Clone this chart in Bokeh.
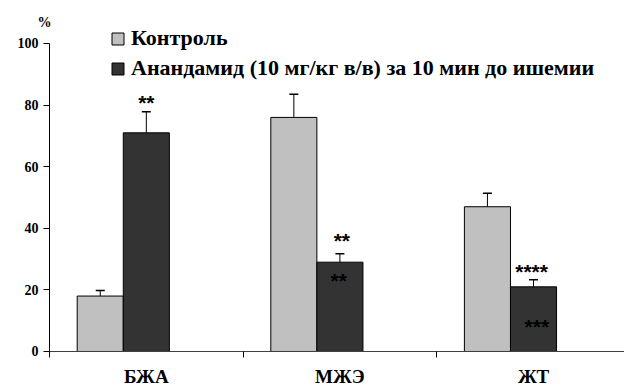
from bokeh.plotting import figure
from bokeh.models import (Range1d, FixedTicker, Legend, LegendItem, Whisker,
                          TeeHead, ColumnDataSource, Label)
from bokeh.core.properties import value
from bokeh.embed import file_html
from bokeh.resources import INLINE

# ---- data ----
categories = ["БЖА", "МЖЭ", "ЖТ"]
control = [18, 76, 47]
control_err = [1.8, 7.5, 4.4]
drug = [71, 29, 21]
drug_err = [6.8, 2.7, 2.3]
series_names = ["Контроль", "Анандамид (10 мг/кг в/в) за 10 мин до ишемии"]
y_ticks = [0, 20, 40, 60, 80, 100]
star_text = ["**", "**", "**", "****", "***"]
star_cat = [0, 1, 1, 2, 2]
star_y = [81.0, 36.0, 22.9, 25.9, 8.0]
star_dx = [0.0, 0.01, -0.006, -0.01, 0.017]

# ---- layout ----
centers = [i + 0.5 for i in range(len(categories))]
bw = 0.238
x_ctrl = [c - bw for c in centers]
x_drug = [c for c in centers]

p = figure(width=624, height=387, output_backend="svg", toolbar_location=None,
           x_range=Range1d(-0.2532, 2.97), y_range=Range1d(-11.69, 113.96),
           min_border_left=0, min_border_right=0, min_border_top=0,
           min_border_bottom=0)
p.outline_line_color = None
p.xgrid.visible = False
p.ygrid.visible = False
p.background_fill_color = "white"
p.border_fill_color = "white"

src_c = ColumnDataSource(dict(x=x_ctrl, top=control, up=[v + e for v, e in zip(control, control_err)]))
src_d = ColumnDataSource(dict(x=x_drug, top=drug, up=[v + e for v, e in zip(drug, drug_err)]))

p.add_layout(Whisker(source=src_c, base="x", lower="top", upper="up", dimension="height",
                     line_color="black", line_width=1, lower_head=None,
                     upper_head=TeeHead(size=9, line_color="black", line_width=1.5)))
p.add_layout(Whisker(source=src_d, base="x", lower="top", upper="up", dimension="height",
                     line_color="black", line_width=1, lower_head=None,
                     upper_head=TeeHead(size=9, line_color="black", line_width=1.5)))

r1 = p.vbar(x="x", top="top", width=bw, bottom=0, source=src_c,
            fill_color="#C0C0C0", line_color="black", line_width=1)
r2 = p.vbar(x="x", top="top", width=bw, bottom=0, source=src_d,
            fill_color="#333333", line_color="black", line_width=1)

p.text(x=[centers[c] + dx for c, dx in zip(star_cat, star_dx)], y=star_y, text=star_text,
       text_align="center", text_baseline="middle", text_color="black",
       text_font=value("Liberation Sans"), text_font_style="bold", text_font_size="21px")

# axes
xa = p.xaxis[0]
xa.fixed_location = 0
xa.bounds = (0, 2.97)
xa.ticker = FixedTicker(ticks=centers, minor_ticks=[0, 1, 2, 3])
xa.major_label_overrides = {c: n for c, n in zip(centers, categories)}
xa.major_tick_out = 0
xa.major_tick_in = 0
xa.minor_tick_out = 6
xa.minor_tick_in = 0
xa.minor_tick_line_color = "black"
xa.axis_line_color = "#404040"
xa.major_label_standoff = 9
xa.major_label_text_font = "Liberation Serif"
xa.major_label_text_font_style = "bold"
xa.major_label_text_font_size = "19px"
xa.major_label_text_color = "black"

ya = p.yaxis[0]
ya.fixed_location = 0
ya.bounds = (0, 100)
ya.ticker = FixedTicker(ticks=y_ticks, minor_ticks=[])
ya.major_tick_out = 6
ya.major_tick_in = 0
ya.major_tick_line_color = "black"
ya.axis_line_color = "black"
ya.major_label_standoff = 5
ya.major_label_text_font = "Liberation Serif"
ya.major_label_text_font_style = "bold"
ya.major_label_text_font_size = "14px"
ya.major_label_text_color = "black"

p.add_layout(Label(x=-0.026, y=106.8, text="%", text_font="Liberation Serif",
                   text_font_style="bold", text_font_size="14px", text_align="center",
                   text_baseline="middle", text_color="black"))

legend = Legend(items=[LegendItem(label=series_names[0], renderers=[r1]),
                       LegendItem(label=series_names[1], renderers=[r2])],
                location=(110, 306), orientation="vertical",
                label_text_font="Liberation Serif", label_text_font_style="bold",
                label_text_font_size="22px", label_text_color="black",
                glyph_width=15, glyph_height=15, label_standoff=6, spacing=4,
                padding=0, margin=0, border_line_color=None, background_fill_alpha=0,
                label_height=22)
p.add_layout(legend, "center")

open("out.html", "w").write(file_html(p, INLINE))
